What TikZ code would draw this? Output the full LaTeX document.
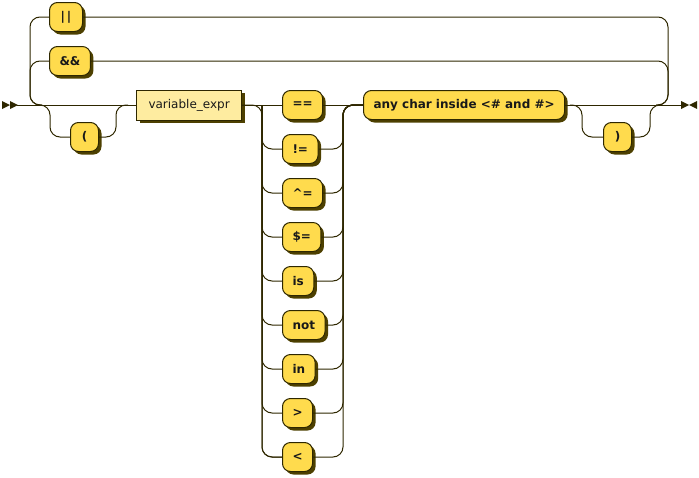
\documentclass[tikz,border=0pt]{standalone}
\usepackage{fontspec}
\setmainfont{DejaVu Sans}
\usetikzlibrary{shadows,calc}
\definecolor{railc}{HTML}{2E2700}
\definecolor{termc}{HTML}{FFDB4D}
\definecolor{ntermc}{HTML}{FEECA0}
\definecolor{shadowc}{HTML}{4D4000}
\tikzset{
  rail/.style={draw=railc, line width=1pt},
  boxshadow/.style={drop shadow={shadow xshift=3pt, shadow yshift=-3pt, fill=shadowc, opacity=1}},
  terminal/.style={draw=railc, line width=1pt, fill=termc, rounded corners=8pt,
    minimum height=29pt, minimum width=30pt, inner xsep=10pt, anchor=west,
    text=black!90, font=\fontsize{12}{14}\selectfont\bfseries, boxshadow},
  nonterminal/.style={draw=railc, line width=1pt, fill=ntermc,
    minimum height=30pt, inner xsep=12pt, anchor=west,
    text=black!90, font=\fontsize{12}{14}\selectfont, boxshadow}
}
\begin{document}
\begin{tikzpicture}[x=1pt, y=-1pt]
    \useasboundingbox (0,0) rectangle (699,477);
    \def\rr{10pt}

    % rail junctions
    \coordinate (start) at (17,105);
    \coordinate (finish) at (681,105);
    \coordinate (chL) at (30,105);
    \coordinate (chR) at (668,105);
    \coordinate (pL) at (50,105);
    \coordinate (pR) at (116,105);
    \coordinate (opL) at (262,105);
    \coordinate (opR) at (343,105);
    \coordinate (qL) at (582,105);
    \coordinate (qR) at (650,105);

    % boxes
    \node[terminal, minimum width=33pt] (pipes) at (49,17) {|\kern2pt|};
    \node[terminal] (amps) at (49,61) {\&\&};
    \node[terminal, minimum width=28pt] (lparen) at (70,137) {(};
    \node[nonterminal] (vexpr) at (136,105) {variable\_expr};
    \foreach \op [count=\i] in {==,!=,\textasciicircum=,\$=,is,not,in,>,<}
        \node[terminal] (op\i) at (282,{105+44*(\i-1)}) {\op};
    \node[terminal] (anychar) at (363,105) {any char inside <\# and \#>};
    \node[terminal, minimum width=28pt] (rparen) at (603,137) {)};

    % main line
    \draw[rail] (start) -- (vexpr.west);
    \draw[rail] (vexpr.east) -- (op1.west);
    \draw[rail] (op1.east) -- (anychar.west);
    \draw[rail] (anychar.east) -- (finish);

    % choice || / &&
    \draw[rail, rounded corners=\rr] ($(chL)+(12,0)$) -- (chL) |- (pipes.west);
    \draw[rail, rounded corners=\rr] ($(chL)+(12,0)$) -- (chL) |- (amps.west);
    \draw[rail, rounded corners=\rr] (pipes.east) -| (chR) -- ($(chR)+(-12,0)$);
    \draw[rail, rounded corners=\rr] (amps.east) -| (chR) -- ($(chR)+(-12,0)$);

    % optional (
    \draw[rail, rounded corners=\rr] ($(pL)+(-12,0)$) -- (pL) |- (lparen.west);
    \draw[rail, rounded corners=\rr] (lparen.east) -| (pR) -- ($(pR)+(12,0)$);

    % operators
    \draw[rail, rounded corners=\rr] (vexpr.east) -- (opL) |- (op9.west);
    \foreach \i in {2,...,9} {
        \draw[rail, rounded corners=\rr] (opL) |- (op\i.west);
        \draw[rail, rounded corners=\rr] (op\i.east) -| (opR) -- (anychar.west);
    }

    % optional )
    \draw[rail, rounded corners=\rr] ($(qL)+(-12,0)$) -- (qL) |- (rparen.west);
    \draw[rail, rounded corners=\rr] (rparen.east) -| (qR) -- ($(qR)+(12,0)$);

    % start and end marks
    \fill[railc] (2,101) -- (10,105) -- (2,109) -- cycle;
    \fill[railc] (10,101) -- (18,105) -- (10,109) -- cycle;
    \fill[railc] (681,101) -- (689,105) -- (681,109) -- cycle;
    \fill[railc] (697,101) -- (689,105) -- (697,109) -- cycle;
\end{tikzpicture}
\end{document}
